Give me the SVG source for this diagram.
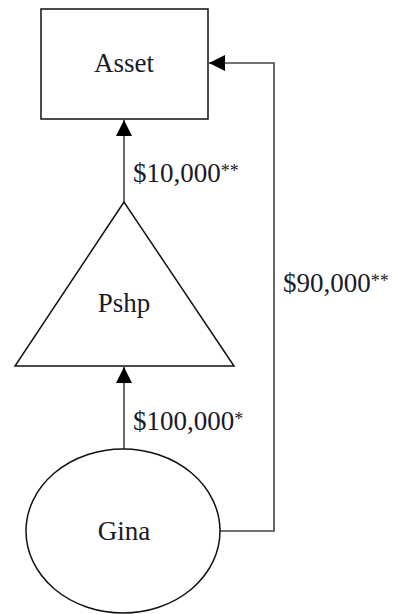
<svg xmlns="http://www.w3.org/2000/svg" width="396" height="614" viewBox="0 0 396 614">
<style>
.node{fill:#fff;stroke:#111;stroke-width:1.5}
.conn{fill:none;stroke:#444;stroke-width:1.6}
.lbl{font-family:"Liberation Serif",serif;font-size:27px;fill:#1a1a28}
.mid{text-anchor:middle}
.ast{font-size:18px}
</style>
<defs>
<marker id="ah" viewBox="0 0 10 10" refX="10" refY="5" markerWidth="16" markerHeight="16" markerUnits="userSpaceOnUse" orient="auto">
<path d="M0,0 L10,5 L0,10 z" fill="#000"/>
</marker>
</defs>
<rect width="396" height="614" fill="#fff"/>
<g id="connectors">
<line class="conn" x1="124" y1="202" x2="124" y2="120" marker-end="url(#ah)"/>
<line class="conn" x1="124" y1="449" x2="124" y2="367" marker-end="url(#ah)"/>
<polyline class="conn" points="219,531 274,531 274,63 209,63" marker-end="url(#ah)"/>
</g>
<g id="asset">
<rect class="node" x="41" y="9" width="167" height="110"/>
<text class="lbl mid" x="124" y="72">Asset</text>
</g>
<g id="pshp">
<polygon class="node" points="124,202 15,366 234,366"/>
<text class="lbl mid" x="124" y="312">Pshp</text>
</g>
<g id="gina">
<ellipse class="node" cx="123" cy="531" rx="97" ry="82"/>
<text class="lbl mid" x="124" y="540">Gina</text>
</g>
<g id="labels">
<text class="lbl" x="133" y="182">$10,000<tspan class="ast" dy="-5">**</tspan></text>
<text class="lbl" x="283" y="292">$90,000<tspan class="ast" dy="-5">**</tspan></text>
<text class="lbl" x="133" y="430">$100,000<tspan class="ast" dy="-5">*</tspan></text>
</g>
</svg>
